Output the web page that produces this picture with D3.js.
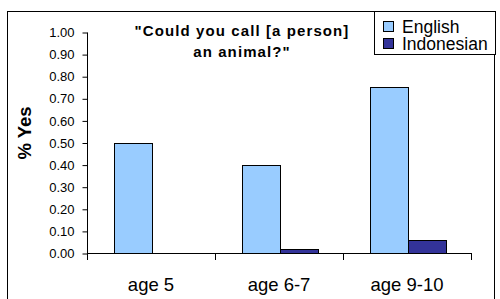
<!DOCTYPE html>
<html lang="en">
<head>
<meta charset="utf-8">
<title>Could you call a person an animal</title>
<script src="https://d3js.org/d3.v7.min.js"></script>
<style>
  body { margin: 0; background: #fff; }
  svg { display: block; font-family: "Liberation Sans", Arial, sans-serif; }
</style>
</head>
<body>
<div id="chart"></div>
<script>
// data
var categories = ["age 5", "age 6-7", "age 9-10"];
var seriesNames = ["English", "Indonesian"];
var englishValues = [0.50, 0.40, 0.75];
var indonesianValues = [0.00, 0.02, 0.06];
var yTicks = [0, 0.1, 0.2, 0.3, 0.4, 0.5, 0.6, 0.7, 0.8, 0.9, 1.0];
var titleLines = ["\"Could you call [a person]", "an animal?\""];
var colors = { "English": "#99ccff", "Indonesian": "#333399" };

var width = 500, height = 299;
var plot = { left: 87, right: 471, top: 32, bottom: 253 };

var svg = d3.select("#chart").append("svg")
    .attr("width", width)
    .attr("height", height);

// outer chart frame (runs off the right/bottom edge)
svg.append("rect")
    .attr("x", 7.5).attr("y", 11.5)
    .attr("width", 487).attr("height", 300)
    .attr("fill", "none").attr("stroke", "#000");

var x = d3.scaleBand()
    .domain(categories)
    .range([plot.left, plot.right]);

var xSub = d3.scaleBand()
    .domain(seriesNames)
    .range([x.bandwidth() * 0.211, x.bandwidth() * 0.805]);

var y = d3.scaleLinear()
    .domain([0, 1])
    .range([plot.bottom, plot.top]);

var rows = categories.map(function(c, i) {
    return { cat: c, values: [
        { key: "English", value: englishValues[i] },
        { key: "Indonesian", value: indonesianValues[i] }
    ] };
});

// bars
var groups = svg.selectAll(".grp").data(rows).enter().append("g")
    .attr("class", "grp")
    .attr("transform", function(d) { return "translate(" + x(d.cat) + ",0)"; });

groups.selectAll("rect")
    .data(function(d) { return d.values.filter(function(v) { return v.value > 0; }); })
    .enter().append("rect")
    .attr("x", function(d) { return Math.round(xSub(d.key)) + 0.5; })
    .attr("y", function(d) { return Math.round(y(d.value)) + 0.5; })
    .attr("width", Math.round(xSub.bandwidth()))
    .attr("height", function(d) { return Math.round(y(0)) - Math.round(y(d.value)); })
    .attr("fill", function(d) { return colors[d.key]; })
    .attr("stroke", "#000")
    .attr("stroke-width", 1);

// y axis
var yAxis = d3.axisLeft(y)
    .tickValues(yTicks)
    .tickFormat(d3.format(".2f"))
    .tickSize(5)
    .tickPadding(8);

var yG = svg.append("g")
    .attr("transform", "translate(" + (plot.left + 0.5) + ",0.5)")
    .call(yAxis);
yG.select(".domain").attr("d", "M0," + plot.top + "V" + plot.bottom);
yG.selectAll("text").style("font-size", "13px").attr("fill", "#000").attr("font-family", "Liberation Sans, Arial, sans-serif");

// x axis: labels centred in band, ticks on band edges
var xAxis = d3.axisBottom(x).tickSize(0).tickPadding(24);
var xG = svg.append("g")
    .attr("transform", "translate(0," + (plot.bottom + 0.5) + ")")
    .call(xAxis);
xG.select(".domain").remove();
xG.selectAll("text").style("font-size", "18.5px").attr("fill", "#000").attr("font-family", "Liberation Sans, Arial, sans-serif");

svg.append("line")
    .attr("x1", plot.left).attr("x2", plot.right + 0.5)
    .attr("y1", plot.bottom + 0.5).attr("y2", plot.bottom + 0.5)
    .attr("stroke", "#000");

var edges = categories.map(function(c) { return x(c); }).concat([x.range()[1]]);
svg.selectAll(".xtick").data(edges).enter().append("line")
    .attr("class", "xtick")
    .attr("x1", function(d) { return Math.round(d) + 0.5; })
    .attr("x2", function(d) { return Math.round(d) + 0.5; })
    .attr("y1", plot.bottom).attr("y2", plot.bottom + 7)
    .attr("stroke", "#000");

// y title
svg.append("text")
    .attr("transform", "translate(31,133) rotate(-90)")
    .attr("text-anchor", "middle")
    .style("font-size", "18.5px")
    .style("font-weight", "bold")
    .text("% Yes");

// chart title
svg.selectAll(".title").data(titleLines).enter().append("text")
    .attr("class", "title")
    .attr("x", 242)
    .attr("y", function(d, i) { return 35.5 + i * 21.5; })
    .attr("text-anchor", "middle")
    .style("font-size", "15px")
    .style("font-weight", "bold")
    .style("letter-spacing", "1.1px")
    .text(function(d) { return d; });

// legend
var legend = svg.append("g").attr("transform", "translate(374,11)");
legend.append("rect")
    .attr("x", 0.5).attr("y", 0.5)
    .attr("width", 121).attr("height", 43)
    .attr("fill", "#fff").attr("stroke", "#000");

var items = legend.selectAll(".item").data(seriesNames).enter().append("g")
    .attr("class", "item")
    .attr("transform", function(d, i) { return "translate(0," + (i * 17) + ")"; });

items.append("rect")
    .attr("x", 9.5).attr("y", 10.5)
    .attr("width", 10).attr("height", 10)
    .attr("fill", function(d) { return colors[d]; })
    .attr("stroke", "#000");

items.append("text")
    .attr("x", 28).attr("y", 21.5)
    .style("font-size", "17.5px")
    .text(function(d) { return d; });
</script>
</body>
</html>
